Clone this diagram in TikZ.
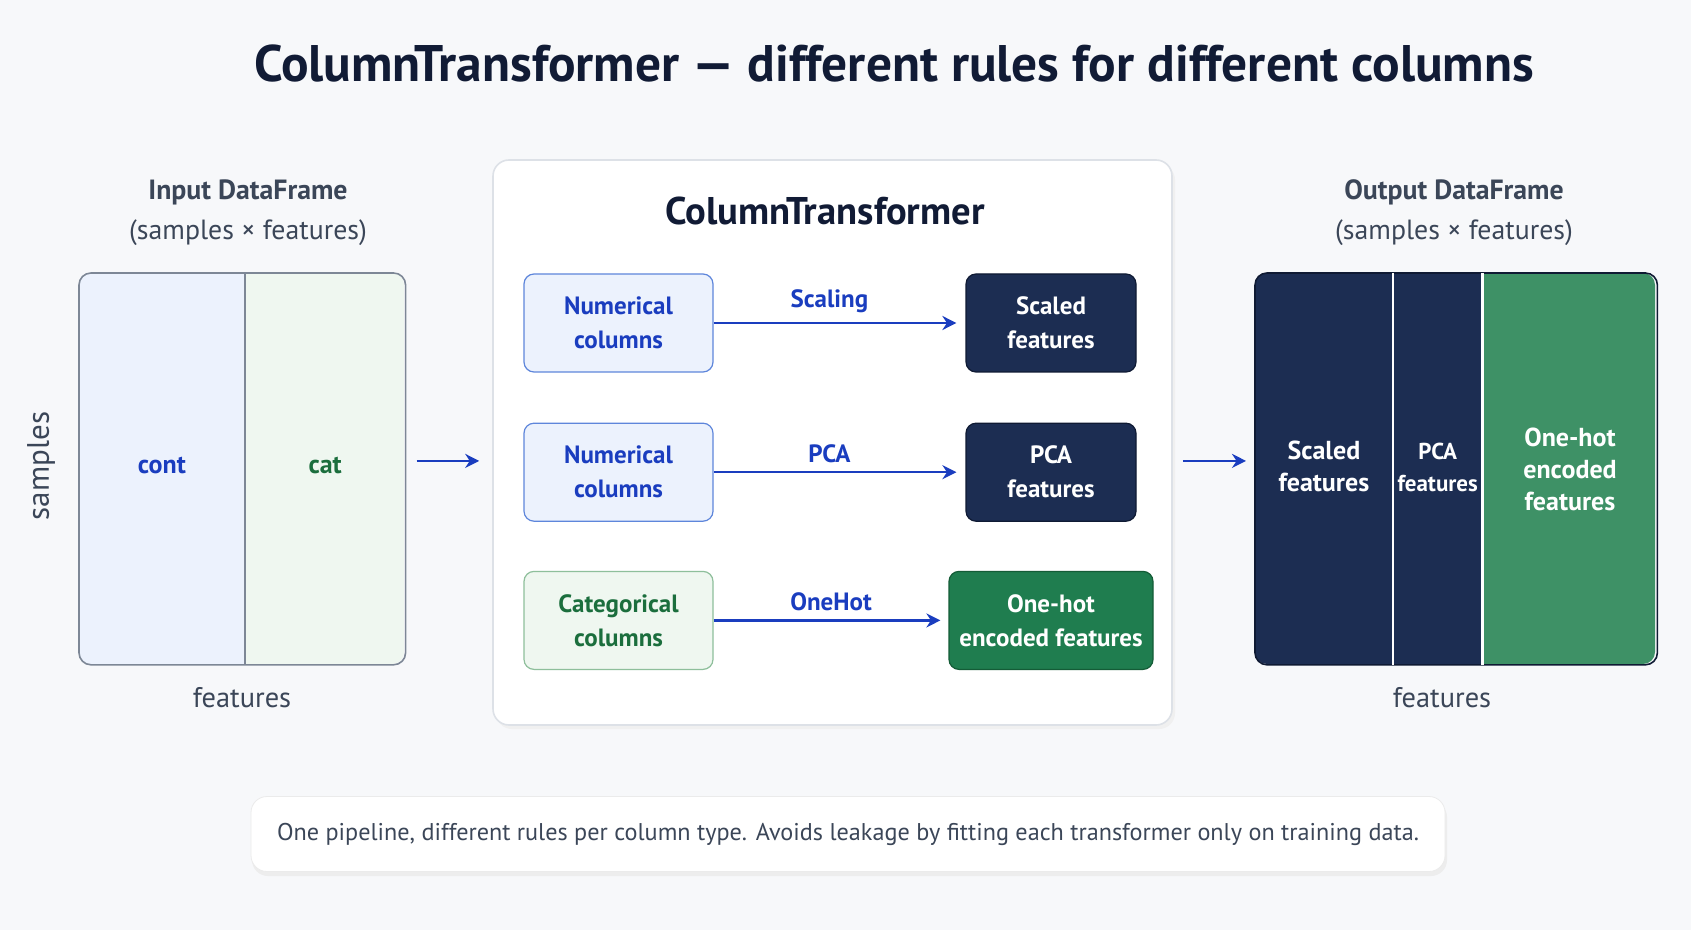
\documentclass[tikz,border=0pt]{standalone}
\usepackage{fontspec}
\setmainfont{PT Sans}
\usetikzlibrary{positioning,arrows.meta}

\definecolor{bg}{HTML}{F7F8FA}
\definecolor{ink}{HTML}{111B35}
\definecolor{slate}{HTML}{3B4658}
\definecolor{navy}{HTML}{1C2D52}
\definecolor{navyline}{HTML}{0F1A33}
\definecolor{leaf}{HTML}{1F7D4F}
\definecolor{leafline}{HTML}{145C37}
\definecolor{leafsoft}{HTML}{3E9166}
\definecolor{royal}{HTML}{1A3DBF}
\definecolor{bluefill}{HTML}{ECF2FD}
\definecolor{blueline}{HTML}{5E86DB}
\definecolor{greenfill}{HTML}{EFF7F0}
\definecolor{greenline}{HTML}{8EBF9B}
\definecolor{greentext}{HTML}{1B6E3D}
\definecolor{frame}{HTML}{7D8796}
\definecolor{panelline}{HTML}{DDE1E7}

\begin{document}
\begin{tikzpicture}[x=0.5pt, y=-0.5pt, align=center,
		head/.style={text=slate, font=\fontsize{13.9}{20}\selectfont},
		axis/.style={text=slate, font=\fontsize{14.2}{16}\selectfont},
		colcell/.style={minimum height=195.5pt, inner sep=0pt, font=\bfseries\fontsize{13}{16}\selectfont},
		inbox/.style={draw, rounded corners=5pt, line width=0.6pt, minimum width=94.5pt, minimum height=49pt, font=\bfseries\fontsize{12.5}{17}\selectfont},
		outbox/.style={draw=navyline, fill=navy, text=white, rounded corners=5pt, line width=0.6pt, minimum height=49pt, font=\bfseries\fontsize{12.5}{17}\selectfont},
		flow/.style={draw=royal, line width=1.1pt, -{Stealth[length=7pt,width=7pt]}},
		steplabel/.style={text=royal, font=\bfseries\fontsize{12.5}{15}\selectfont}]
	% background and frame of the page
	\fill[bg] (0,0) rectangle (1691,930);
	\node[text=ink, font=\bfseries\fontsize{25.7}{30}\selectfont] (title) at (894,64) {ColumnTransformer — different rules for different columns};

	% input dataframe
	\node[head] (inhead) at (248,213) {\textbf{Input DataFrame}\\(samples × features)};
	\begin{scope}
		\clip[rounded corners=6pt] (79,273) rectangle (404,664);
		\node[colcell, fill=bluefill, text=royal, minimum width=82.5pt, anchor=north west] (contcol) at (79,273) {\raisebox{4pt}{cont}};
		\node[colcell, fill=greenfill, text=greentext, minimum width=80pt, anchor=north west] (catcol) at (contcol.north east) {\raisebox{4pt}{cat}};
	\end{scope}
	\draw[frame, line width=0.8pt, rounded corners=6pt] (contcol.north west) rectangle (catcol.south east);
	\draw[frame, line width=0.8pt] (contcol.north east) -- (contcol.south east);
	\node[axis, rotate=90, font=\fontsize{15.5}{16}\selectfont] (samples) at (41,466) {samples};
	\node[axis] (infeat) at (242,698) {features};

	% the transformer panel
	\fill[black!6, rounded corners=8pt] (496,164) rectangle (1175,729);
	\node[draw=panelline, fill=white, rounded corners=8pt, line width=0.8pt, minimum width=339.5pt, minimum height=282.5pt] (panel) at (832.5,442.5) {};
	\node[text=ink, font=\bfseries\fontsize{19.3}{22}\selectfont] (ptitle) at (825,211) {ColumnTransformer};

	\node[inbox, draw=blueline, fill=bluefill, text=royal] (numA) at (618.5,323) {Numerical\\columns};
	\node[inbox, draw=blueline, fill=bluefill, text=royal, below=25pt of numA] (numB) {Numerical\\columns};
	\node[inbox, draw=greenline, fill=greenfill, text=greentext, below=24.5pt of numB] (catbox) {Categorical\\columns};

	\node[outbox, minimum width=85pt] (scaledbox) at (1051,323) {Scaled\\features};
	\node[outbox, minimum width=85pt] (pcabox) at (numB -| scaledbox) {PCA\\features};
	\node[outbox, draw=leafline, fill=leaf, minimum width=102pt] (hotbox) at (catbox -| scaledbox) {One-hot\\encoded features};

	\draw[flow, shorten >=4.5pt] (numA) -- node[steplabel, above=1pt, pos=0.46] {Scaling} (scaledbox);
	\draw[flow, shorten >=4.5pt] (numB) -- node[steplabel, above=1pt, pos=0.46] {PCA} (pcabox);
	\draw[flow, shorten >=4pt] (catbox) -- node[steplabel, above=1pt, pos=0.5] {OneHot} (hotbox);

	% output dataframe
	\node[head] (outhead) at (1454,213) {\textbf{Output DataFrame}\\(samples × features)};
	\begin{scope}
		\clip[rounded corners=6pt] (1255,273) rectangle (1655,664);
		\node[colcell, fill=navy, text=white, minimum width=68.5pt, anchor=north west] (scaledcol) at (1255,273) {\raisebox{2.2pt}{\begin{tabular}{@{}c@{}}Scaled\\features\end{tabular}}};
		\node[colcell, fill=navy, text=white, minimum width=44.5pt, anchor=north west, font=\bfseries\fontsize{11.5}{16}\selectfont] (pcacol) at (scaledcol.north east) {\raisebox{2.2pt}{\begin{tabular}{@{}c@{}}PCA\\features\end{tabular}}};
		\node[colcell, fill=leafsoft, text=white, minimum width=87pt, anchor=north west] (hotcol) at (pcacol.north east) {One-hot\\encoded\\features};
	\end{scope}
	\draw[navyline, line width=0.8pt, rounded corners=6pt] (scaledcol.north west) rectangle (hotcol.south east);
	\draw[white, line width=1.2pt] (scaledcol.north east) -- (scaledcol.south east);
	\draw[white, line width=1.2pt] (pcacol.north east) -- (pcacol.south east);
	\node[axis] (outfeat) at (1442,698) {features};

	% arrows in and out of the panel
	\coordinate (midline) at ([yshift=4pt]catcol.east);
	\draw[flow, shorten <=5.5pt, shorten >=6.5pt] (midline) -- (midline -| panel.west);
	\draw[flow, shorten <=5pt, shorten >=4.5pt] (midline -| panel.east) -- (midline -| scaledcol.west);

	% note at the bottom
	\fill[black!7, rounded corners=8pt] (252,801) rectangle (1447,876);
	\node[draw=black!8, fill=white, rounded corners=8pt, minimum width=597pt, minimum height=37.5pt, text=slate, font=\fontsize{12.1}{14}\selectfont] (note) at (848,834) {One pipeline, different rules per column type. Avoids leakage by fitting each transformer only on training data.};
\end{tikzpicture}
\end{document}
